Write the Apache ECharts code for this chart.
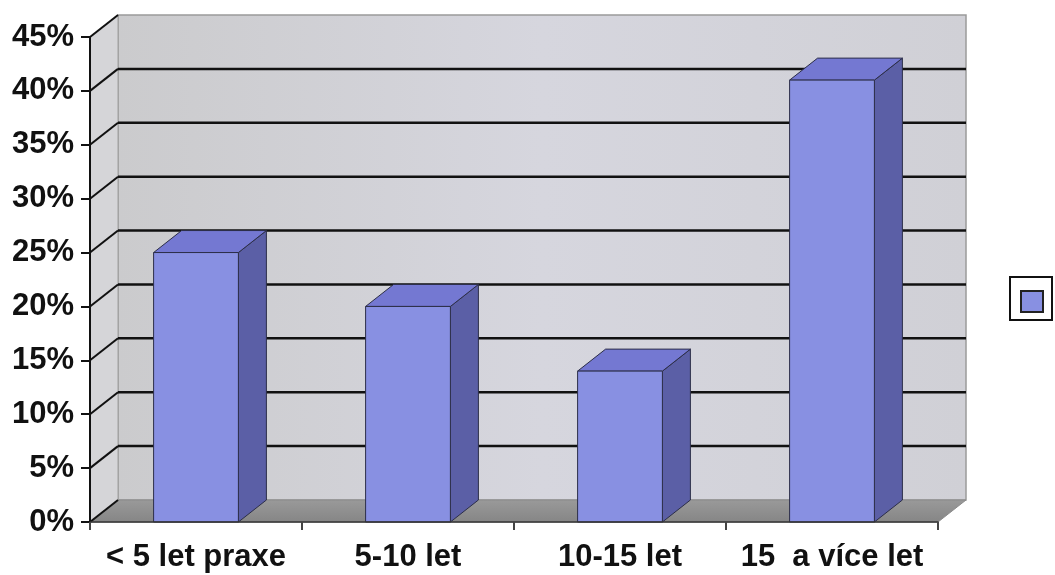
<!DOCTYPE html>
<html>
<head>
<meta charset="utf-8">
<script src="https://cdn.jsdelivr.net/npm/echarts@6/dist/echarts.min.js"></script>
<style>
  html, body { margin: 0; padding: 0; background: #ffffff; }
  #chart { width: 1055px; height: 575px; }
</style>
</head>
<body>
<div id="chart"></div>
<script>
// Praxe respondentů – podíl v procentech
const categories = ['< 5 let praxe', '5-10 let', '10-15 let', '15  a více let'];
const shares = [25, 20, 14, 41];
const yTicks = [0, 5, 10, 15, 20, 25, 30, 35, 40, 45];

// depth of the pseudo-3D box (walls and columns)
const DX = 28;
const DY = 22;

const FONT = '"Liberation Sans", Arial, sans-serif';

const chart = echarts.init(document.getElementById('chart'), null, { renderer: 'canvas' });

// back wall, side wall and floor of the plot box
function renderWalls(params, api) {
  const cs = params.coordSys;
  const x0 = cs.x, x1 = cs.x + cs.width;
  const yTop = api.coord([0, yTicks[yTicks.length - 1]])[1];
  const yBot = api.coord([0, yTicks[0]])[1];
  return {
    type: 'group',
    children: [
      {
        type: 'rect',
        shape: { x: x0 + DX, y: yTop - DY, width: x1 - x0, height: yBot - yTop },
        style: {
          fill: new echarts.graphic.LinearGradient(0, 0, 1, 0, [
            { offset: 0, color: '#cbcbcd' },
            { offset: 0.5, color: '#d6d6de' },
            { offset: 1, color: '#d0d0d6' }
          ]),
          stroke: '#9a9a9a', lineWidth: 1.5
        }
      },
      {
        type: 'polygon',
        shape: { points: [[x0, yBot], [x0, yTop], [x0 + DX, yTop - DY], [x0 + DX, yBot - DY]] },
        style: { fill: '#d5d5d8', stroke: '#a0a0a0', lineWidth: 1 }
      },
      {
        type: 'polygon',
        shape: { points: [[x0, yBot], [x1, yBot], [x1 + DX, yBot - DY], [x0 + DX, yBot - DY]] },
        style: {
          fill: new echarts.graphic.LinearGradient(0, 0, 0, 1, [
            { offset: 0, color: '#9a9a9a' },
            { offset: 1, color: '#858585' }
          ]),
          stroke: '#8a8a8a', lineWidth: 1
        }
      }
    ]
  };
}

// gridlines on the back wall plus their diagonals on the side wall
function renderGrid(params, api) {
  const cs = params.coordSys;
  const v = api.value(1);
  const y = api.coord([0, v])[1];
  const x0 = cs.x, x1 = cs.x + cs.width;
  const children = [
    {
      type: 'line',
      shape: { x1: x0, y1: y, x2: x0 + DX, y2: y - DY },
      style: { stroke: '#111', lineWidth: 2 }
    }
  ];
  if (v > yTicks[0] && v < yTicks[yTicks.length - 1]) {
    children.push({
      type: 'line',
      shape: { x1: x0 + DX, y1: y - DY, x2: x1 + DX, y2: y - DY },
      style: { stroke: '#111', lineWidth: 2.5 }
    });
  }
  return { type: 'group', children: children };
}

// one prism-shaped column per category
function renderColumn(params, api) {
  const idx = api.value(0);
  const base = api.coord([idx, 0]);
  const top = api.coord([idx, api.value(1)]);
  const bw = api.size([1, 0])[0] * 0.4;
  const L = top[0] - bw / 2, R = top[0] + bw / 2;
  const T = top[1], B = base[1];
  const edge = '#2c2e48';
  return {
    type: 'group',
    children: [
      {
        type: 'polygon',
        shape: { points: [[R, T], [R + DX, T - DY], [R + DX, B - DY], [R, B]] },
        style: { fill: '#5b5fa6', stroke: edge, lineWidth: 1 }
      },
      {
        type: 'polygon',
        shape: { points: [[L, T], [L + DX, T - DY], [R + DX, T - DY], [R, T]] },
        style: { fill: '#7478d2', stroke: edge, lineWidth: 1 }
      },
      {
        type: 'rect',
        shape: { x: L, y: T, width: bw, height: B - T },
        style: { fill: '#8890e2', stroke: edge, lineWidth: 1 }
      }
    ]
  };
}

const option = {
  animation: false,
  backgroundColor: '#ffffff',
  grid: { left: 90, right: 117, top: 37, bottom: 53 },
  legend: {
    left: 1010,
    top: 277,
    orient: 'vertical',
    data: [{ name: 'Praxe', icon: 'rect' }],
    itemWidth: 22,
    itemHeight: 21,
    padding: [13, 8, 7, 10],
    borderColor: '#111',
    borderWidth: 2,
    backgroundColor: '#ffffff',
    formatter: function () { return ''; },
    textStyle: { fontSize: 1 },
    selectedMode: false
  },
  xAxis: {
    type: 'category',
    data: categories,
    boundaryGap: true,
    axisLine: { show: true, lineStyle: { color: '#333', width: 1.5 } },
    axisTick: { show: true, interval: 0, length: 8, lineStyle: { color: '#444', width: 2 } },
    axisLabel: {
      interval: 0,
      margin: 20,
      color: '#111',
      fontFamily: FONT,
      fontWeight: 'bold',
      fontSize: 31
    },
    splitLine: { show: false },
    z: 10
  },
  yAxis: {
    type: 'value',
    min: 0,
    max: 45,
    interval: 5,
    axisLine: { show: true, lineStyle: { color: '#111', width: 2 } },
    axisTick: { show: true, length: 9, lineStyle: { color: '#111', width: 2 } },
    axisLabel: {
      formatter: '{value}%',
      margin: 16,
      color: '#111',
      fontFamily: FONT,
      fontWeight: 'bold',
      fontSize: 31
    },
    splitLine: { show: false },
    z: 10
  },
  series: [
    {
      type: 'custom',
      name: 'box',
      renderItem: renderWalls,
      data: [[0, 0]],
      silent: true,
      z: 1
    },
    {
      type: 'custom',
      name: 'grid',
      renderItem: renderGrid,
      data: yTicks.map(function (v) { return [0, v]; }),
      silent: true,
      z: 2
    },
    {
      type: 'custom',
      name: 'Praxe',
      renderItem: renderColumn,
      itemStyle: { color: '#8890e2', borderColor: '#222', borderWidth: 1.5 },
      data: shares.map(function (v, i) { return [i, v]; }),
      z: 3
    }
  ]
};

chart.setOption(option);
</script>
</body>
</html>
